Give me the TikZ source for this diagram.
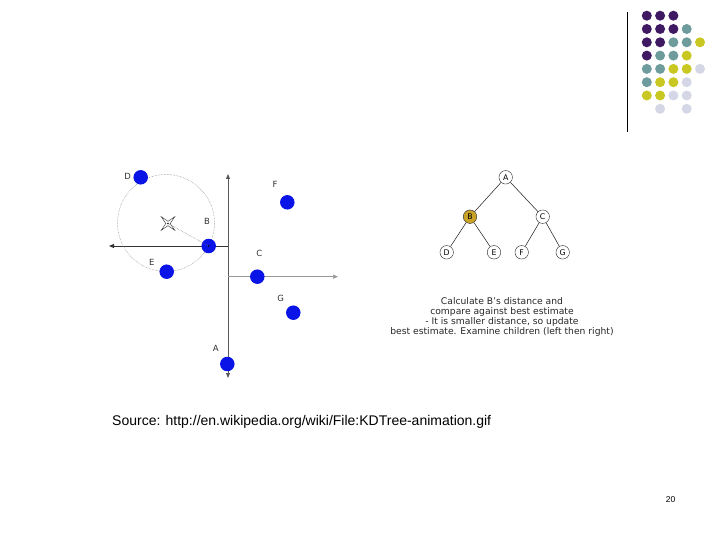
\documentclass[tikz,border=0pt]{standalone}
\usepackage{fontspec}
\setmainfont{DejaVu Sans}
\newfontfamily\arialfont{Liberation Sans}
\usetikzlibrary{arrows.meta}

\definecolor{dotpurple}{HTML}{3F1A63}
\definecolor{dotteal}{HTML}{6E9C9C}
\definecolor{dotyellow}{HTML}{C9C822}
\definecolor{dotlav}{HTML}{D5D6E6}
\definecolor{kdblue}{HTML}{0A14E6}
\definecolor{kdgold}{HTML}{C9A327}

\begin{document}
\begin{tikzpicture}[
    x=1pt, y=-1pt,
    deco/.style={circle, inner sep=0pt, minimum size=10pt},
    point/.style={circle, fill=kdblue, inner sep=0pt, minimum size=14.5pt},
    plabel/.style={font=\fontsize{8.5}{9}\selectfont, text=black!80, inner sep=0pt},
    treenode/.style={circle, draw=black!85, fill=white, inner sep=0pt, minimum size=13.5pt,
        font=\fontsize{7.8}{8}\selectfont},
    axis/.style={-{Triangle[length=5pt,width=4pt]}, line width=0.9pt},
    edge/.style={draw=black!85, line width=0.55pt},
    caption/.style={align=center, font=\fontsize{9.2}{10}\selectfont, text=black!85}
]
\useasboundingbox (0,0) rectangle (720,540);

% slide decoration
\draw[line width=1pt] (627,12) -- (627,132);
\foreach \c/\r/\col in {1/1/dotpurple, 2/1/dotpurple, 3/1/dotpurple,
    1/2/dotpurple, 2/2/dotpurple, 3/2/dotpurple, 4/2/dotteal,
    1/3/dotpurple, 2/3/dotpurple, 3/3/dotteal, 4/3/dotteal, 5/3/dotyellow,
    1/4/dotpurple, 2/4/dotteal, 3/4/dotteal, 4/4/dotyellow,
    1/5/dotteal, 2/5/dotteal, 3/5/dotyellow, 4/5/dotyellow, 5/5/dotlav,
    1/6/dotteal, 2/6/dotyellow, 3/6/dotyellow, 4/6/dotlav,
    1/7/dotyellow, 2/7/dotyellow, 3/7/dotlav, 4/7/dotlav,
    2/8/dotlav, 4/8/dotlav}
  \node[deco, fill=\col] (dot-\c-\r) at ({633.5+13.3*\c}, {2.4+13.3*\r}) {};

% splitting planes
\coordinate (vtop) at (228,174);
\coordinate (vbot) at (228,378);
\coordinate (hmid) at (228,246);
\coordinate (hleft) at (109,246);
\coordinate (cmid) at (228,276.7);
\coordinate (cright) at (338,276.7);
\draw[axis, black!65, {Triangle[length=5pt,width=4pt]}-{Triangle[length=5pt,width=4pt]}] (vtop) -- (vbot);
\draw[axis, black!80] (hmid) -- (hleft);
\draw[axis, black!40, line width=0.6pt] (cmid) -- (cright);

% query and search radius
\coordinate (query) at (168,223.5);
\draw[black!80, line width=0.45pt, shift={(query)}] (45:9.5) -- (90:2.2) -- (135:9.5) -- (180:2.2)
    -- (225:9.5) -- (270:2.2) -- (315:9.5) -- (0:2.2) -- cycle;
\fill[black] (query) circle (0.9pt);
\draw[black!50, densely dotted, line width=0.5pt] (166,223) circle (48.5);

% points
\node[point] (pD) at (140.7,177.3) {};
\node[point] (pF) at (287.3,202.3) {};
\node[point] (pB) at (208.7,246) {};
\node[point] (pE) at (166.7,271.7) {};
\node[point] (pC) at (257.3,276.7) {};
\node[point] (pG) at (293.3,312.7) {};
\node[point] (pA) at (227.3,364) {};
\fill[black] (pB.center) circle (0.8pt);
\draw[black!55, densely dotted, line width=0.5pt] (query) -- (pB.center);

\node[plabel] (lD) at (127.7,176) {D};
\node[plabel] (lF) at (275,184.3) {F};
\node[plabel] (lB) at (207,221.7) {B};
\node[plabel] (lE) at (151.7,262.3) {E};
\node[plabel] (lC) at (259.3,253.3) {C};
\node[plabel] (lG) at (280.7,298.3) {G};
\node[plabel] (lA) at (215.7,348.3) {A};

% tree
\node[treenode] (tA) at (505.7,177.3) {A};
\node[treenode, fill=kdgold] (tB) at (470,216.7) {B};
\node[treenode] (tC) at (542.7,216.7) {C};
\node[treenode] (tD) at (446.7,252.3) {D};
\node[treenode] (tE) at (494,252.3) {E};
\node[treenode] (tF) at (521.7,252.3) {F};
\node[treenode] (tG) at (562.7,252.3) {G};
\draw[edge] (tA) -- (tB);
\draw[edge] (tA) -- (tC);
\draw[edge] (tB) -- (tD);
\draw[edge] (tB) -- (tE);
\draw[edge] (tC) -- (tF);
\draw[edge] (tC) -- (tG);

\node[caption] (step) at (502,316.5) {Calculate B's distance and\\
    compare against best estimate\\
    - It is smaller distance, so update\\
    best estimate. Examine children (left then right)};

% slide text
\node[font=\arialfont\fontsize{14}{16}\selectfont, anchor=west, inner sep=0pt] (source)
    at (112,422) {Source: http://en.wikipedia.org/wiki/File:KDTree-animation.gif};
\node[font=\arialfont\fontsize{8.5}{9}\selectfont, inner sep=0pt] (page) at (670.5,500) {20};
\end{tikzpicture}
\end{document}
